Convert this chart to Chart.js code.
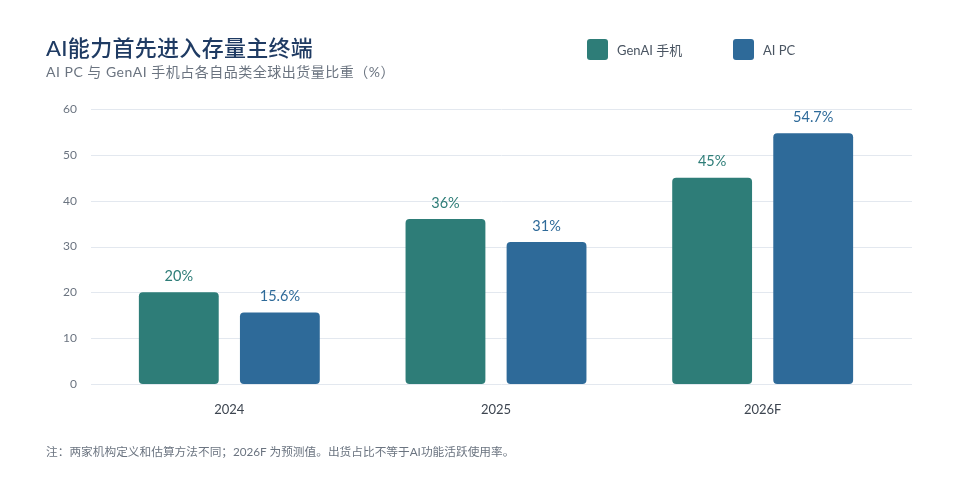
<!DOCTYPE html>
<html>
<head>
<meta charset="utf-8">
<script src="https://cdn.jsdelivr.net/npm/chart.js@4"></script>
<style>
  html, body { margin:0; padding:0; background:#ffffff; }
  body { width:960px; height:480px; position:relative; overflow:hidden;
         font-family: "Lato", "Noto Sans CJK SC", sans-serif; }
  #wrap { position:absolute; left:0; top:0; width:960px; height:480px; }
  .title { position:absolute; left:46px; top:30px; font-size:22px; color:#1f3b63; font-weight:500; letter-spacing:0.3px; white-space:nowrap; }
  .subtitle { position:absolute; left:46px; top:61px; font-size:14px; color:#6b7480; white-space:nowrap; letter-spacing:0.5px; }
  .legend { position:absolute; top:39px; font-size:13px; color:#4a5562; white-space:nowrap; display:flex; align-items:center; }
  .legend .sw { width:21px; height:21px; border-radius:3px; margin-right:9px; display:inline-block; }
  .note { position:absolute; left:46px; top:442px; font-size:11.7px; color:#6b7480; white-space:nowrap; }
</style>
</head>
<body>
<div id="wrap"><canvas id="c" width="960" height="480"></canvas></div>
<div class="title">AI能力首先进入存量主终端</div>
<div class="subtitle">AI PC 与 GenAI 手机占各自品类全球出货量比重（%）</div>
<div class="legend" style="left:587px;"><span class="sw" style="background:#2e7d78"></span>GenAI 手机</div>
<div class="legend" style="left:733px;"><span class="sw" style="background:#2e6a99"></span>AI PC</div>
<div class="note">注：两家机构定义和估算方法不同；2026F 为预测值。出货占比不等于AI功能活跃使用率。</div>
<script>
const categories = ["2024", "2025", "2026F"];
const seriesNames = ["GenAI 手机", "AI PC"];
const genaiPhone = [20, 36, 45];
const aiPC = [15.6, 31, 54.7];
const valueLabels = [["20%", "36%", "45%"], ["15.6%", "31%", "54.7%"]];
const yTicks = [0, 10, 20, 30, 40, 50, 60];
const colors = ["#2e7d78", "#2e6a99"];

const FONT = '"Lato", "Noto Sans CJK SC", sans-serif';

// horizontal grid lines that run a little past the plot area, as in the reference
const gridPlugin = {
  id: "wideGrid",
  beforeDatasetsDraw(chart) {
    const ctx = chart.ctx;
    const y = chart.scales.y;
    const left = chart.chartArea.left - 5;
    const right = chart.chartArea.right + 16;
    ctx.save();
    ctx.strokeStyle = "#e3e8ef";
    ctx.lineWidth = 1;
    yTicks.forEach(v => {
      const py = Math.round(y.getPixelForValue(v)) + 0.5;
      ctx.beginPath();
      ctx.moveTo(left, py);
      ctx.lineTo(right, py);
      ctx.stroke();
    });
    ctx.restore();
  }
};

const labelPlugin = {
  id: "valueLabels",
  afterDatasetsDraw(chart) {
    const ctx = chart.ctx;
    chart.data.datasets.forEach((ds, i) => {
      const meta = chart.getDatasetMeta(i);
      meta.data.forEach((bar, j) => {
        ctx.save();
        ctx.fillStyle = colors[i];
        ctx.font = '14.5px ' + FONT;
        ctx.textAlign = "center";
        ctx.textBaseline = "middle";
        ctx.fillText(valueLabels[i][j], bar.x, bar.y - 16);
        ctx.restore();
      });
    });
  }
};

new Chart(document.getElementById("c"), {
  type: "bar",
  data: {
    labels: categories,
    datasets: [
      { label: seriesNames[0], data: genaiPhone, backgroundColor: colors[0], borderRadius: 4, borderSkipped: false },
      { label: seriesNames[1], data: aiPC, backgroundColor: colors[1], borderRadius: 4, borderSkipped: false }
    ]
  },
  options: {
    responsive: false,
    animation: false,
    devicePixelRatio: 1,
    layout: { padding: { left: 40, right: 64, top: 109, bottom: 56 } },
    plugins: { legend: { display: false }, title: { display: false }, tooltip: { enabled: false } },
    datasets: { bar: { categoryPercentage: 0.758, barPercentage: 0.79 } },
    scales: {
      x: {
        grid: { display: false },
        border: { display: false },
        ticks: { color: "#3d4550", font: { size: 13, family: FONT }, padding: 10 },
        afterFit(scale) { scale.height = 40; }
      },
      y: {
        min: 0, max: 60,
        afterBuildTicks(scale) { scale.ticks = yTicks.map(v => ({ value: v })); },
        grid: { display: false, drawTicks: false },
        border: { display: false },
        ticks: { color: "#6b7480", font: { size: 12, family: FONT }, padding: 19 },
        afterFit(scale) { scale.width = 56; }
      }
    }
  },
  plugins: [gridPlugin, labelPlugin]
});
</script>
</body>
</html>
